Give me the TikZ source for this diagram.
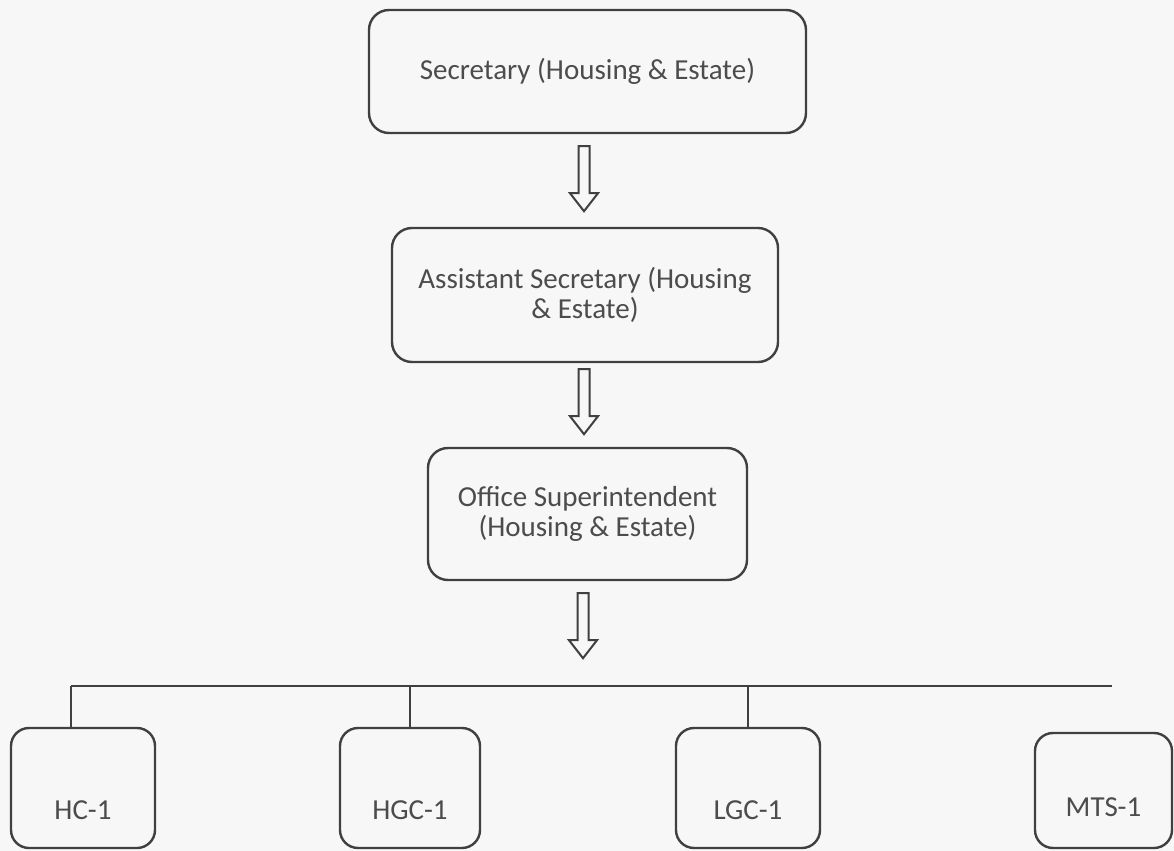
\documentclass[tikz,border=0pt]{standalone}
\usepackage{fontspec}
\setmainfont{Carlito}
\usetikzlibrary{calc}
\begin{document}
\begin{tikzpicture}[x=0.5pt,y=-0.5pt,
  lbl/.style={text=black!70, font=\fontsize{14.5}{15}\selectfont},
  box/.style={draw=black!75, line width=1.2pt, rounded corners=10pt, align=center,
    lbl, inner sep=0pt},
  leaf/.style={box, rounded corners=9pt, minimum width=72pt, minimum height=60pt},
  hollow/.style={draw=black!75, line width=1pt, line join=miter},
  wire/.style={draw=black!75, line width=1.2pt}]
\useasboundingbox[fill=white!97!black] (0,0) rectangle (1174,851);

\node[box, minimum width=218.5pt, minimum height=61.5pt] (sec) at (587.5,71.5) {Secretary (Housing \& Estate)};
\node[box, minimum width=193pt, minimum height=67pt] (asst) at (585,295) {Assistant Secretary (Housing\\\& Estate)};
\node[box, minimum width=159.5pt, minimum height=66pt] (off) at (587.5,514) {Office Superintendent\\(Housing \& Estate)};

\coordinate (a1) at ($(sec.south)+(-3.5,12)$);
\coordinate (a2) at ($(asst.south)+(-1,6)$);
\coordinate (a3) at ($(off.south)+(-4.5,12)$);
\foreach \a in {a1,a2,a3}{
  \draw[hollow] ($(\a)+(-5.5,0)$) -- ++(0,47) -- ++(-8.5,0) -- ++(14,18) -- ++(14,-18)
    -- ++(-8.5,0) -- ++(0,-47) -- cycle;
}

\node[leaf, label={[lbl, yshift=-11pt]center:HC-1}] (hc) at (83,788) {};
\node[leaf, minimum width=70pt, label={[lbl, yshift=-11pt]center:HGC-1}] (hgc) at (410,788) {};
\node[leaf, label={[lbl, yshift=-11pt]center:LGC-1}] (lgc) at (748,788) {};
\node[leaf, minimum width=68.5pt, minimum height=57.5pt, label={[lbl, yshift=-8.5pt]center:MTS-1}] (mts) at (1103.5,790.5) {};

\coordinate (busL) at (71,686);
\coordinate (busR) at (1112,686);
\draw[wire] (busL) -- (busR);
\draw[wire] (hc.north -| busL) -- (busL);
\draw[wire] (hgc.north) -- (hgc.north |- busL);
\draw[wire] (lgc.north) -- (lgc.north |- busL);
\end{tikzpicture}
\end{document}
